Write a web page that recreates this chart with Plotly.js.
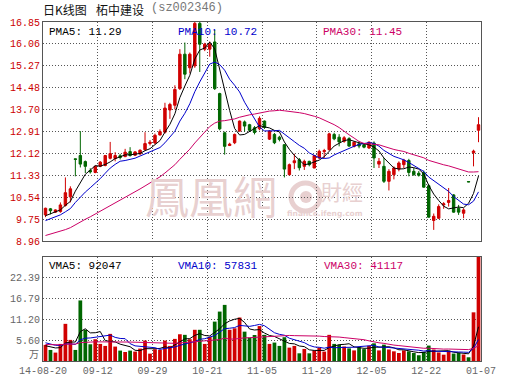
<!DOCTYPE html>
<html><head><meta charset="utf-8">
<script src="https://cdn.plot.ly/plotly-3.0.1.min.js"></script>
<style>html,body{margin:0;padding:0;background:#fff;}#chart{width:530px;height:391px;}</style>
</head><body><div id="chart"></div>
<script>
// ---- data ----
const openP = [9.90,10.12,10.00,10.02,10.24,10.55,11.92,12.04,11.82,11.50,
 11.43,11.65,11.68,11.94,11.93,12.03,12.00,12.18,12.05,12.10,
 12.25,12.47,12.49,12.78,12.88,13.68,13.85,14.45,15.69,15.20,
 15.27,16.80,15.87,15.87,16.13,14.27,12.86,12.40,12.50,12.92,
 13.25,13.15,13.04,13.00,13.28,12.63,12.80,12.70,12.43,11.35,
 11.78,11.89,11.65,11.83,11.59,11.95,12.18,12.25,12.80,12.70,
 12.55,12.65,12.37,12.46,12.43,12.31,12.49,11.73,11.65,11.11,
 11.35,11.55,11.71,11.86,11.47,11.40,11.43,10.95,9.70,9.78,
 10.26,10.35,10.62,10.14,9.96,11.10,12.14,12.95];
const highP = [10.16,10.15,10.10,10.35,11.25,10.93,11.93,12.92,11.86,11.58,
 11.68,11.84,12.06,12.53,12.16,12.10,12.28,12.34,12.20,12.26,
 12.88,12.60,12.83,12.98,13.94,13.94,14.57,15.87,16.11,15.75,
 16.85,16.85,16.10,16.15,16.56,14.30,12.90,12.50,12.83,13.30,
 13.30,13.18,13.10,13.45,13.30,12.95,12.85,12.75,12.45,11.75,
 12.10,11.95,11.89,11.85,12.06,12.25,12.28,12.86,12.86,12.81,
 12.74,12.70,12.55,12.55,12.48,12.55,12.55,11.95,11.95,11.55,
 11.65,11.83,11.92,11.92,11.59,11.48,11.50,11.00,9.95,10.28,
 10.36,10.87,10.65,10.26,10.14,11.10,12.25,13.42];
const lowP = [9.82,9.92,9.97,9.98,10.20,10.35,11.29,11.61,11.41,11.39,
 11.40,11.62,11.65,11.90,11.83,11.90,11.98,12.00,12.02,12.05,
 12.22,12.40,12.45,12.76,12.83,13.36,13.70,14.40,14.79,15.00,
 15.20,15.05,15.80,15.60,14.40,12.95,12.07,12.38,12.45,12.90,
 12.90,12.90,12.80,12.95,13.00,12.60,12.45,12.55,11.25,11.32,
 11.55,11.50,11.52,11.65,11.58,11.91,11.95,12.22,12.59,12.37,
 12.50,12.35,12.33,12.30,12.30,12.28,11.59,11.59,11.05,10.78,
 11.18,11.47,11.59,11.29,11.31,11.28,10.88,9.80,9.36,9.75,
 10.12,10.20,9.98,9.90,9.78,11.09,11.65,12.52];
const closeP = [10.14,10.05,10.08,10.26,10.70,10.84,11.90,11.73,11.65,11.45,
 11.65,11.80,12.04,12.11,12.04,11.97,12.16,12.04,12.17,12.23,
 12.47,12.52,12.77,12.90,13.75,13.88,14.42,15.69,14.97,15.69,
 16.80,16.05,16.05,16.05,14.45,13.00,12.37,12.45,12.80,13.28,
 13.10,12.95,12.87,13.38,13.05,12.92,12.50,12.62,11.55,11.71,
 11.85,11.60,11.83,11.71,12.04,12.19,12.22,12.82,12.64,12.53,
 12.68,12.38,12.52,12.38,12.34,12.52,11.95,11.83,11.11,11.47,
 11.59,11.77,11.87,11.43,11.35,11.33,10.90,9.82,9.85,10.20,
 10.30,10.42,10.00,10.00,10.08,11.09,12.20,13.15];
// volume in 万 (10k lots)
const volume = [4.33,2.98,2.26,4.6,10.0,5.68,2.98,16.3,8.4,4.5,
 5.86,4.6,4.06,7.3,3.88,2.8,2.43,2.8,2.53,3.34,
 5.5,1.98,3.16,2.98,5.5,4.06,5.95,7.2,7.04,5.86,
 8.4,8.4,4.6,6.5,10.6,13.3,15.1,8.4,8.8,11.7,
 7.9,6.3,7.0,9.4,7.04,4.6,4.96,4.06,6.4,3.6,
 4.06,2.07,3.25,2.07,2.8,3.6,2.53,7.04,4.6,4.3,
 3.9,3.4,2.85,3.7,3.2,4.1,4.75,2.85,4.4,3.1,
 2.6,2.15,2.85,2.6,2.15,1.55,2.4,4.15,3.1,2.3,
 1.7,2.7,2.0,2.2,1.75,1.0,13.1,27.99];
// values before the visible window, estimated from where the average lines start
const prevClose = [8.62,8.70,8.66,8.75,8.72,8.68,8.74,8.80,8.77,8.71,
 8.85,8.92,8.98,9.05,9.02,9.10,9.15,9.12,9.20,9.25,
 9.35,9.45,9.52,9.60,9.68,9.70,9.78,9.85,9.88];
const prevVol = [3.8,4.5,3.9,4.2,5.1,3.6,4.4,3.9,4.6,4.0,
 4.3,3.7,4.8,4.1,3.9,4.5,4.2,3.8,4.4,4.3,
 5.8,6.2,5.1,5.9,5.5,4.3,3.9,4.2,3.8];

const dateTickLabels = ['14-08-20','09-12','09-29','10-21','11-05','11-20','12-05','12-22','01-07'];
const dateTickIndex = [-0.5,10.5,21.5,32.5,43.5,54.5,65.5,76.5,87.5];
const priceTickLabels = ['8.96','9.75','10.54','11.33','12.12','12.91','13.70','14.48','15.27','16.06','16.85'];
const volTickLabels = ['5.60','11.20','16.79','22.39'];
const priceLegend = ['PMA5: 11.29','PMA10: 10.72','PMA30: 11.45'];
const volLegend = ['VMA5: 92047','VMA10: 57831','VMA30: 41117'];
const titleMain = ['日K线图','柘中建设'];
const titleCode = '(sz002346)';

// ---- styles ----
const RED = '#d00000', GREEN = '#006600';
const MA_COLORS = ['#000000','#0000cc','#cc0066'];
const L = 43, R = 481, T = 22, B = 361;
const px2x = p => (p - L) / (R - L);
const py2y = p => (B - p) / (B - T);

function movingAvg(prev, vals, n){
  const all = prev.concat(vals);
  return vals.map((_, i) => {
    const end = prev.length + i + 1;
    const seg = all.slice(end - n, end);
    return seg.reduce((a,b)=>a+b,0) / seg.length;
  });
}

const xs = closeP.map((_, i) => i);
const priceMin = parseFloat(priceTickLabels[0]);
const priceMax = parseFloat(priceTickLabels[priceTickLabels.length-1]);
const priceTickVals = priceTickLabels.map((_, i) => priceMin + i*(priceMax-priceMin)/(priceTickLabels.length-1));
const volMax = Math.max(...volume);
const volTickVals = volTickLabels.map((_, i) => volMax*(i+1)/5);

const traces = [];
traces.push({
  type:'candlestick', x: xs, open: openP, high: highP, low: lowP, close: closeP,
  xaxis:'x', yaxis:'y', whiskerwidth: 0, hoverinfo:'skip',
  increasing:{line:{color:RED,width:1}, fillcolor:RED},
  decreasing:{line:{color:GREEN,width:1}, fillcolor:GREEN}
});
[5,10,30].forEach((n, j) => traces.push({
  type:'scatter', mode:'lines', x: xs, y: movingAvg(prevClose, closeP, n),
  xaxis:'x', yaxis:'y', line:{color:MA_COLORS[j], width:1}, hoverinfo:'skip'
}));
traces.push({
  type:'bar', x: xs, y: volume, xaxis:'x2', yaxis:'y2',
  marker:{color: closeP.map((c,i) => c >= openP[i] ? RED : GREEN), line:{width:0}}, hoverinfo:'skip'
});
[5,10,30].forEach((n, j) => traces.push({
  type:'scatter', mode:'lines', x: xs, y: movingAvg(prevVol, volume, n),
  xaxis:'x2', yaxis:'y2', line:{color:MA_COLORS[j], width:1}, hoverinfo:'skip'
}));

const gridStyle = {showgrid:true, gridcolor:'#555', gridwidth:1, griddash:'1px,2px',
  showline:true, mirror:true, linecolor:'#555', linewidth:1, zeroline:false, ticks:'', fixedrange:true};

const mono = 'Liberation Mono, DejaVu Sans Mono, monospace';
const annotations = [];
priceLegend.forEach((t, j) => annotations.push({
  xref:'paper', yref:'paper', x: px2x([47, 176, 321][j]), y: py2y(32), xanchor:'left', yanchor:'middle',
  text: t, showarrow:false, font:{family:mono, size:11, color:MA_COLORS[j]}
}));
volLegend.forEach((t, j) => annotations.push({
  xref:'paper', yref:'paper', x: px2x([47, 176, 322][j]), y: py2y(266), xanchor:'left', yanchor:'middle',
  text: t, showarrow:false, font:{family:mono, size:11, color:MA_COLORS[j]}
}));
// title pieces
[[titleMain[0], 42, 'Noto Sans CJK SC', '#111'], [titleMain[1], 95, 'Noto Sans CJK SC', '#111'], [titleCode, 150, mono, '#777']]
  .forEach(([t, px, fam, col]) => annotations.push({xref:'paper', yref:'paper', x: px2x(px), y: py2y(0), xanchor:'left', yanchor:'top',
    text: t, showarrow:false, borderpad:0, font:{family:fam, size:12, color:col}}));
annotations.push({xref:'paper', yref:'paper', x: px2x(41), y: py2y(353), xanchor:'right', yanchor:'middle',
  text:'万', showarrow:false, font:{family:'Noto Sans CJK SC', size:10, color:'#666'}});
// watermark
const wm = '#e8d0d0';
annotations.push({xref:'paper', yref:'paper', x: px2x(211), y: py2y(195), text:'鳳凰網', showarrow:false, borderpad:0,
  font:{family:'Noto Sans CJK TC', size:44, color:wm}});
annotations.push({xref:'paper', yref:'paper', x: px2x(364), y: py2y(191), text:'財經', showarrow:false, borderpad:0,
  font:{family:'Noto Sans CJK TC', size:21, color:wm}});
annotations.push({xref:'paper', yref:'paper', x: px2x(364), y: py2y(213), text:'<b>finance.ifeng.com</b>', showarrow:false, borderpad:0,
  font:{family:'DejaVu Sans', size:7.5, color:wm}});

const shapes = [
  {type:'circle', xref:'paper', yref:'paper', x0:px2x(291), x1:px2x(320), y0:py2y(211), y1:py2y(183), line:{color:wm, width:5}, layer:'below'},
  {type:'circle', xref:'paper', yref:'paper', x0:px2x(300), x1:px2x(312), y0:py2y(203), y1:py2y(191), fillcolor:wm, line:{width:0}, layer:'below'}
];

const layout = {
  width:530, height:391, margin:{l:L, r:530-R, t:T, b:391-B},
  paper_bgcolor:'#fff', plot_bgcolor:'#fff', showlegend:false, bargap:0.25,
  xaxis: Object.assign({}, gridStyle, {domain:[0,1], anchor:'y', range:[-0.5,87.5], tickvals:dateTickIndex,
    showticklabels:false, rangeslider:{visible:false}}),
  yaxis: Object.assign({}, gridStyle, {domain:[py2y(241),1], anchor:'x', range:[priceMin,priceMax],
    tickvals:priceTickVals, ticktext:priceTickLabels, tickfont:{family:mono, size:10, color:'#cc0000'}}),
  xaxis2: Object.assign({}, gridStyle, {domain:[0,1], anchor:'y2', range:[-0.5,87.5], tickvals:dateTickIndex,
    ticktext:dateTickLabels, tickfont:{family:mono, size:10, color:'#666'}}),
  yaxis2: Object.assign({}, gridStyle, {domain:[0,py2y(257)], anchor:'x2', range:[0,volMax],
    tickvals:volTickVals, ticktext:volTickLabels, tickfont:{family:mono, size:10, color:'#666'}}),
  annotations, shapes
};
Plotly.newPlot('chart', traces, layout, {displayModeBar:false, staticPlot:true});
</script></body></html>
